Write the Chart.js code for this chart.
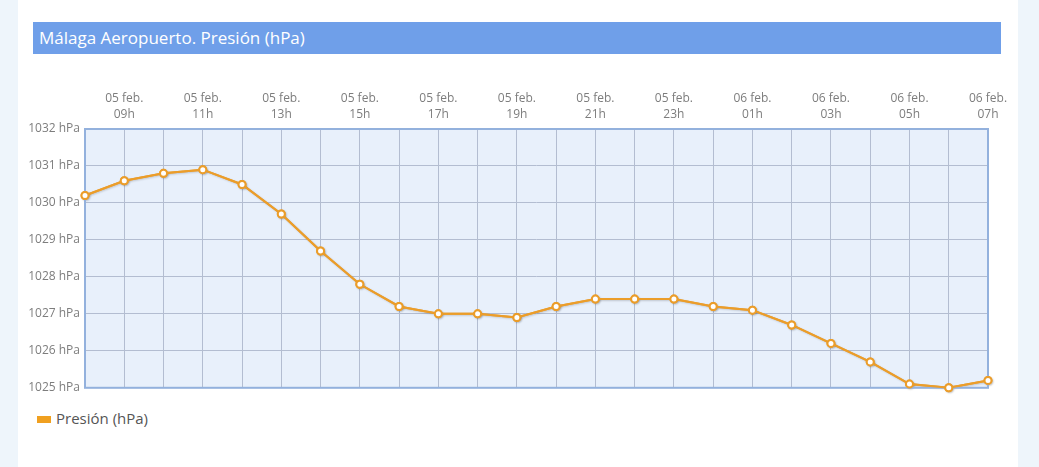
<!DOCTYPE html>
<html>
<head>
<meta charset="utf-8">
<script src="https://cdn.jsdelivr.net/npm/chart.js@4/dist/chart.umd.min.js"></script>
<style>
  html, body { margin: 0; padding: 0; }
  body { width: 1039px; height: 467px; background: #eef5fb; position: relative; overflow: hidden; font-family: "Open Sans", sans-serif; }
  #card { position: absolute; left: 18px; top: 0; width: 1000px; height: 467px; background: #ffffff; }
  #title { position: absolute; left: 33px; top: 22px; width: 968px; height: 32px; background: #6f9fe9; color: #ffffff; font-size: 17px; line-height: 32px; box-sizing: border-box; padding-left: 6px; }
  #wrap { position: absolute; left: 0; top: 60px; width: 1039px; height: 340px; }
  #legend { position: absolute; left: 37px; top: 408px; font-size: 15px; color: #555; display: flex; align-items: center; }
  #legend .sw { width: 14px; height: 7px; background: #f0a020; margin-right: 5px; margin-top: 2px; }
</style>
</head>
<body>
<div id="card"></div>
<div id="title">Málaga Aeropuerto. Presión (hPa)</div>
<div id="wrap"><canvas id="c" width="1039" height="340"></canvas></div>
<div id="legend"><span class="sw"></span><span>Presión (hPa)</span></div>
<script>
const days = ['05 feb.','05 feb.','05 feb.','05 feb.','05 feb.','05 feb.','05 feb.','05 feb.','05 feb.','05 feb.','05 feb.','05 feb.','05 feb.','05 feb.','05 feb.','05 feb.','06 feb.','06 feb.','06 feb.','06 feb.','06 feb.','06 feb.','06 feb.','06 feb.'];
const hours = ['08h','09h','10h','11h','12h','13h','14h','15h','16h','17h','18h','19h','20h','21h','22h','23h','00h','01h','02h','03h','04h','05h','06h','07h'];
const pressure = [1030.2,1030.6,1030.8,1030.9,1030.5,1029.7,1028.7,1027.8,1027.2,1027.0,1027.0,1026.9,1027.2,1027.4,1027.4,1027.4,1027.2,1027.1,1026.7,1026.2,1025.7,1025.1,1025.0,1025.2];
const yTicks = [1025,1026,1027,1028,1029,1030,1031,1032];
const seriesName = 'Presión (hPa)';

const labels = hours.map((h, i) => [days[i], h]);

const areaPlugin = {
  id: 'areaPlugin',
  beforeDraw(chart) {
    const {ctx, chartArea: a} = chart;
    ctx.save();
    ctx.fillStyle = '#e8f0fb';
    ctx.fillRect(a.left, a.top, a.right - a.left, a.bottom - a.top);
    ctx.restore();
  },
  afterDraw(chart) {
    const {ctx, chartArea: a} = chart;
    ctx.save();
    ctx.strokeStyle = '#93b1dd';
    ctx.lineWidth = 2;
    ctx.strokeRect(a.left, a.top, a.right - a.left, a.bottom - a.top);
    ctx.restore();
    chart.getDatasetMeta(0).controller.draw();
  },
  beforeDatasetDraw(chart) {
    const ctx = chart.ctx;
    ctx.save();
    ctx.shadowColor = 'rgba(0,0,0,0.18)';
    ctx.shadowBlur = 2;
    ctx.shadowOffsetX = 1;
    ctx.shadowOffsetY = 1;
  },
  afterDatasetDraw(chart) {
    chart.ctx.restore();
  }
};

new Chart(document.getElementById('c'), {
  type: 'line',
  data: {
    labels: labels,
    datasets: [{
      label: seriesName,
      data: pressure,
      borderColor: '#eb9d2a',
      borderWidth: 2,
      backgroundColor: '#ffffff',
      pointBackgroundColor: '#ffffff',
      pointBorderColor: '#eb9d2a',
      pointBorderWidth: 2,
      pointRadius: 3.5,
      tension: 0,
      clip: false
    }]
  },
  options: {
    responsive: false,
    animation: false,
    devicePixelRatio: 1,
    layout: { padding: { left: 0, right: 51, top: 0, bottom: 9 } },
    plugins: { legend: { display: false }, tooltip: { enabled: false } },
    scales: {
      x: {
        position: 'top',
        offset: false,
        grid: { color: '#b3bdd1', lineWidth: 1, drawTicks: false },
        border: { display: false },
        ticks: {
          autoSkip: false,
          maxRotation: 0,
          padding: 6,
          color: '#7d7d7d',
          font: { family: 'Open Sans', size: 12, lineHeight: 1.35 },
          callback: function(v, i) { return (i % 2 === 1) ? labels[i] : ''; }
        },
        afterFit(scale) { scale.height = 69; }
      },
      y: {
        min: yTicks[0],
        max: yTicks[yTicks.length - 1],
        afterBuildTicks(scale) { scale.ticks = yTicks.map(v => ({ value: v })); },
        grid: { color: '#b3bdd1', lineWidth: 1, drawTicks: false },
        border: { display: false },
        ticks: {
          padding: 5,
          color: '#7d7d7d',
          font: { family: 'Open Sans', size: 12 },
          callback: v => v + ' hPa'
        },
        afterFit(scale) { scale.width = 85; }
      }
    }
  },
  plugins: [areaPlugin]
});
</script>
</body>
</html>
